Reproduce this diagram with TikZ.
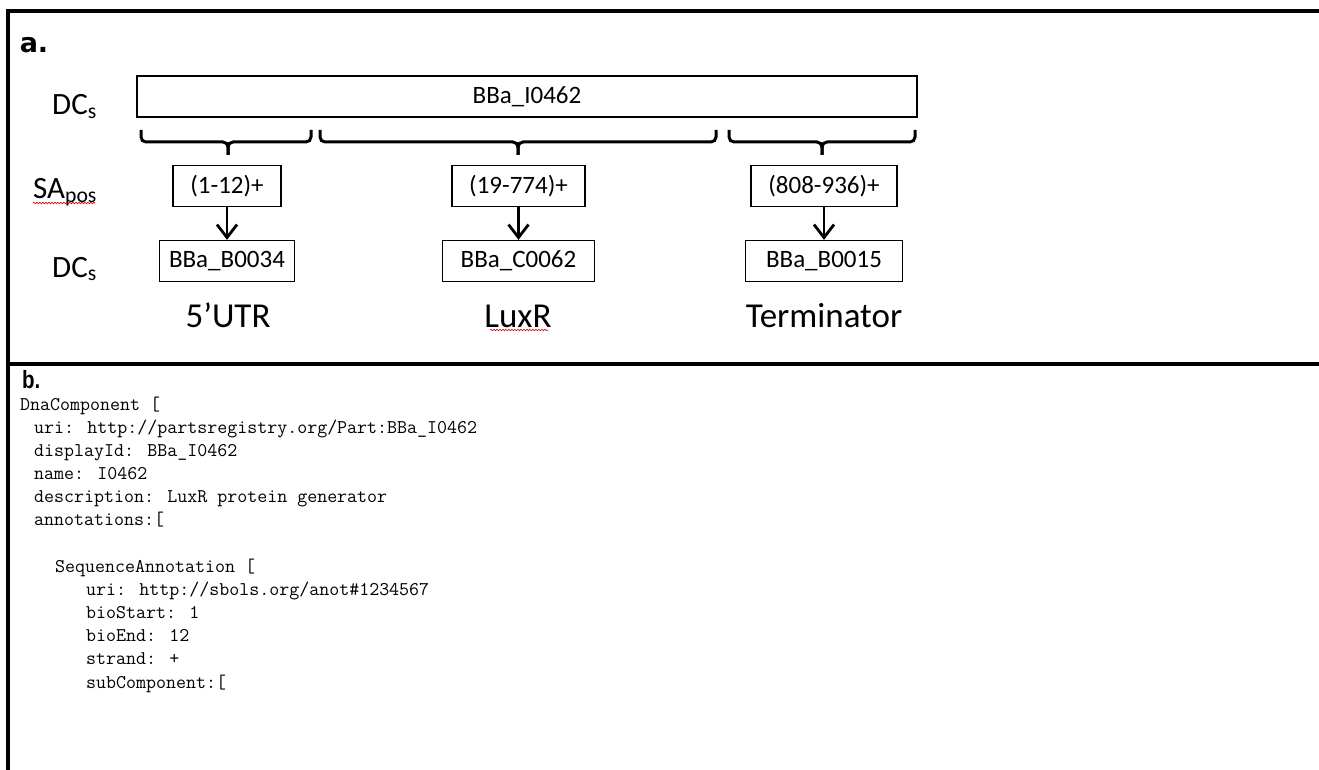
\documentclass[tikz,border=0pt]{standalone}
\usepackage{fontspec}
\setmainfont{Carlito}
\newfontfamily\headfont{DejaVu Sans}
\newfontfamily\narrowfont[FakeStretch=0.82]{Liberation Sans}
\usetikzlibrary{arrows.meta, decorations.pathmorphing}

\tikzset{
  partbox/.style={draw, line width=1.3pt, minimum height=41pt, inner sep=0pt, font=\fontsize{25}{30}\selectfont},
  sidelabel/.style={anchor=base west, inner sep=0pt, font=\fontsize{31}{36}\selectfont},
  partlabel/.style={anchor=base, inner sep=0pt, font=\fontsize{35}{40}\selectfont},
  bracket/.style={line width=3pt, rounded corners=5pt},
  pointer/.style={-{Straight Barb[length=13pt, width=20pt]}, line width=2.8pt},
  codeline/.style={anchor=base west, inner sep=0pt, font=\ttfamily\fontsize{19.4}{22}\selectfont},
  squiggle/.style={red!80!black, line width=0.6pt, decorate, decoration={snake, amplitude=0.8pt, segment length=3pt}},
}

\begin{document}
\begin{tikzpicture}[x=1pt, y=-1pt]
    \useasboundingbox (0,0) rectangle (1319,770);

    % Frame and panel separator
    \draw[line width=3.5pt] (1322,11) -- (8,11) -- (8,772);
    \draw[line width=3.5pt] (8,364) -- (1322,364);

    % Panel a
    \node[anchor=center, inner sep=0pt, font=\headfont\bfseries\fontsize{27}{30}\selectfont] (tagA) at (34,45) {a.};
    \node[sidelabel] (dcTop) at (52,115) {DC\textsubscript{s}};
    \node[sidelabel] (saMid) at (33,199) {SA\textsubscript{pos}};
    \node[sidelabel] (dcLow) at (52,277) {DC\textsubscript{s}};
    \draw[squiggle] (33,203) -- (95,203);

    % Whole device and its three parts
    \node[partbox, minimum width=780pt] (device) at (527,96.5) {BBa\_I0462};
    \draw[bracket] (141,130) -- (141,142) -- (228,142) -- (228,155);
    \draw[bracket] (311,130) -- (311,142) -- (228,142) -- (228,155);
    \draw[bracket] (320,130) -- (320,142) -- (518,142) -- (518,155);
    \draw[bracket] (716,130) -- (716,142) -- (518,142) -- (518,155);
    \draw[bracket] (729,130) -- (729,142) -- (822,142) -- (822,155);
    \draw[bracket] (915,130) -- (915,142) -- (822,142) -- (822,155);

    \node[partbox, minimum width=108pt] (sa1) at (227,186) {(1-12)+};
    \node[partbox, minimum width=133pt] (sa2) at (518.5,186) {(19-774)+};
    \node[partbox, minimum width=146pt] (sa3) at (824,186) {(808-936)+};

    \node[partbox, minimum width=135pt] (dc1) at (227,261) {BBa\_B0034};
    \node[partbox, minimum width=152pt] (dc2) at (518.5,261) {BBa\_C0062};
    \node[partbox, minimum width=157pt] (dc3) at (824,261) {BBa\_B0015};

    \draw[pointer] (sa1) -- (dc1);
    \draw[pointer] (sa2) -- (dc2);
    \draw[pointer] (sa3) -- (dc3);

    \node[partlabel] (utr) at (228,327) {5’UTR};
    \node[partlabel] (luxr) at (518,327) {LuxR};
    \node[partlabel] (term) at (824,327) {Terminator};
    \draw[squiggle] (490,330) -- (548,330);

    % Panel b
    \node[anchor=base west, inner sep=0pt, font=\narrowfont\bfseries\fontsize{25}{30}\selectfont] (tagB) at (22,388) {b.};
    \node[codeline] (c1) at (20,410) {DnaComponent [};
    \node[codeline] (c2) at (34,433) {uri: http://partsregistry.org/Part:BBa\_I0462};
    \node[codeline] (c3) at (34,456) {displayId: BBa\_I0462};
    \node[codeline] (c4) at (34,479) {name: I0462};
    \node[codeline] (c5) at (34,502) {description: LuxR protein generator};
    \node[codeline] (c6) at (34,525) {annotations:[};
    \node[codeline] (c7) at (55,572) {SequenceAnnotation [};
    \node[codeline] (c8) at (86,595) {uri: http://sbols.org/anot\#1234567};
    \node[codeline] (c9) at (86,618) {bioStart: 1};
    \node[codeline] (c10) at (86,641) {bioEnd: 12};
    \node[codeline] (c11) at (86,664) {strand: +};
    \node[codeline] (c12) at (86,688) {subComponent:[};
\end{tikzpicture}
\end{document}
